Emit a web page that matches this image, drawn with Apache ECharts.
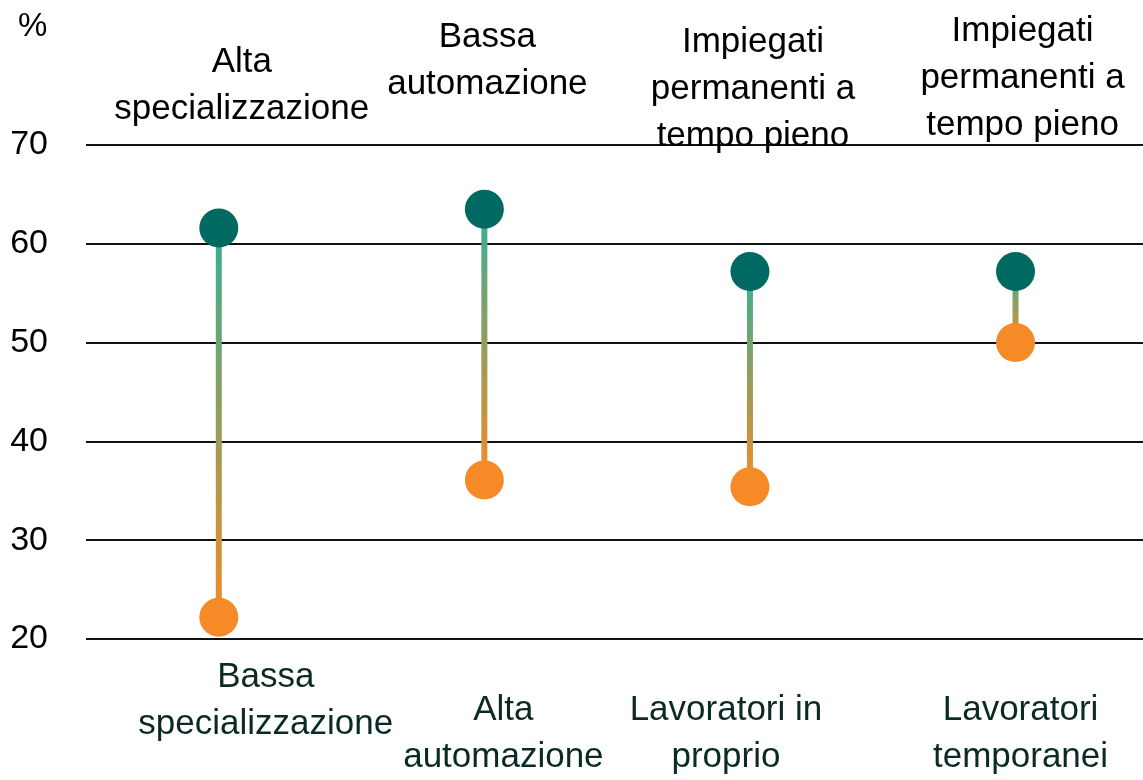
<!DOCTYPE html>
<html>
<head>
<meta charset="utf-8">
<script src="https://cdn.jsdelivr.net/npm/echarts@6/dist/echarts.min.js"></script>
<style>
  html, body { margin: 0; padding: 0; background: #fff; }
  #main { width: 1143px; height: 780px; }
</style>
</head>
<body>
<div id="main"></div>
<script>
// dati
const categories = ['c1', 'c2', 'c3', 'c4'];
const topLabels = ['Alta\nspecializzazione', 'Bassa\nautomazione', 'Impiegati\npermanenti a\ntempo pieno', 'Impiegati\npermanenti a\ntempo pieno'];
const bottomLabels = ['Bassa\nspecializzazione', 'Alta\nautomazione', 'Lavoratori in\nproprio', 'Lavoratori\ntemporanei'];
const topValues = [61.6, 63.5, 57.2, 57.2];
const bottomValues = [22.2, 36.1, 35.4, 50.0];
const yTicks = [20, 30, 40, 50, 60, 70];

const FONT = '"Liberation Sans", Arial, sans-serif';

// posizione delle etichette (offset dal centro della categoria, centro della prima riga)
const topOffX = [23, 3, 3, 7];
const topLineY = [62, 37, 42, 31];
const botOffX = [47, 19, -24, 5];
const botLineY = [677, 710, 710, 710];
const LH = 47;

let chart = echarts.init(document.getElementById('main'));

// asse x numerico: una posizione per categoria (0..3), la griglia esce un po' a destra
chart.setOption({
    animation: false,
    grid: { left: 86, right: 0, top: 145, bottom: 141 },
    xAxis: {
        type: 'value',
        min: -0.5,
        max: 3.48,
        show: false,
        splitLine: { show: false }
    },
    yAxis: {
        type: 'value',
        min: yTicks[0],
        max: yTicks[yTicks.length - 1],
        interval: 10,
        axisLine: { show: false },
        axisTick: { show: false },
        axisLabel: {
            margin: 38,
            fontSize: 34,
            fontFamily: FONT,
            color: '#000'
        },
        splitLine: { lineStyle: { color: '#111', width: 2 } }
    },
    series: [
        {
            // segmenti con sfumatura verde -> arancione
            type: 'custom',
            data: categories.map((c, i) => [i, topValues[i], bottomValues[i]]),
            renderItem: function (params, api) {
                let p1 = api.coord([api.value(0), api.value(1)]);
                let p2 = api.coord([api.value(0), api.value(2)]);
                return {
                    type: 'line',
                    shape: { x1: p1[0], y1: p1[1], x2: p2[0], y2: p2[1] },
                    style: {
                        lineWidth: 6,
                        stroke: new echarts.graphic.LinearGradient(0, p1[1], 0, p2[1], [
                            { offset: 0, color: '#35b093' },
                            { offset: 1, color: '#f58a26' }
                        ], true)
                    }
                };
            },
            z: 2
        },
        {
            type: 'scatter',
            data: topValues.map((v, i) => [i, v]),
            symbolSize: 39,
            itemStyle: { color: '#006a62', opacity: 1 },
            z: 3
        },
        {
            type: 'scatter',
            data: bottomValues.map((v, i) => [i, v]),
            symbolSize: 39,
            itemStyle: { color: '#f58a26', opacity: 1 },
            z: 3
        }
    ]
});

// etichette sopra e sotto
let graphics = [{
    type: 'text',
    left: 18, top: 10,
    style: { text: '%', fontSize: 33, fontFamily: FONT, fill: '#000' }
}];
categories.forEach((c, i) => {
    let cx = chart.convertToPixel({ xAxisIndex: 0 }, i);
    graphics.push({
        type: 'text',
        x: cx + topOffX[i],
        y: topLineY[i] - LH / 2,
        style: {
            text: topLabels[i], fontSize: 35, fontFamily: FONT, fill: '#000',
            align: 'center', verticalAlign: 'top', lineHeight: LH
        },
        z: 10
    });
    graphics.push({
        type: 'text',
        x: cx + botOffX[i],
        y: botLineY[i] - LH / 2,
        style: {
            text: bottomLabels[i], fontSize: 35, fontFamily: FONT, fill: '#0c2a25',
            align: 'center', verticalAlign: 'top', lineHeight: LH
        },
        z: 10
    });
});
chart.setOption({ graphic: graphics });
</script>
</body>
</html>
